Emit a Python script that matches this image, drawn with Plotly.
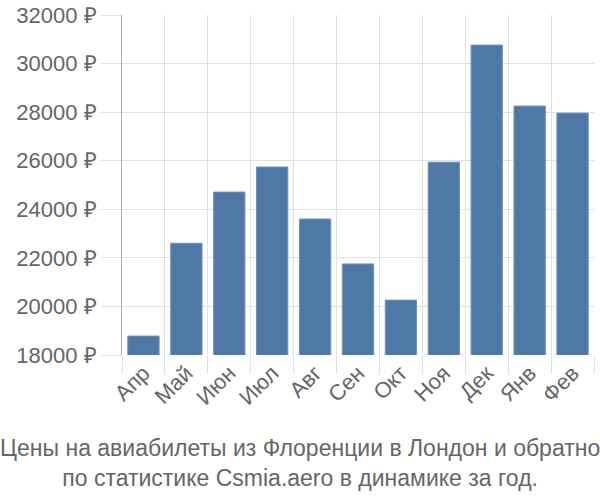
import plotly.graph_objects as go

months = ["Апр", "Май", "Июн", "Июл", "Авг", "Сен", "Окт", "Ноя", "Дек", "Янв", "Фев"]
prices = [18780, 22600, 24710, 25740, 23600, 21750, 20260, 25940, 30760, 28250, 27960]
y_ticks = [18000, 20000, 22000, 24000, 26000, 28000, 30000, 32000]
y_labels = [f"{v} ₽" for v in y_ticks]
title_lines = ["Цены на авиабилеты из Флоренции в Лондон и обратно",
               "по статистике Csmia.aero в динамике за год."]

fig = go.Figure()
fig.add_trace(go.Bar(
    x=months, y=prices,
    marker=dict(color="#4e79a7", line=dict(color="#6f93bb", width=1)),
))

font_family = "Liberation Sans, Arial, sans-serif"
fig.update_layout(
    width=600, height=500,
    margin=dict(l=122, r=6, t=15, b=145),
    plot_bgcolor="white", paper_bgcolor="white",
    bargap=0.27,
    showlegend=False,
    font=dict(family=font_family, color="#666", size=22),
    xaxis=dict(
        automargin=False,
        tickson="boundaries", showgrid=True, gridcolor="#e0e0e0", gridwidth=1,
        ticks="outside", ticklen=18, tickcolor="#e0e0e0",
        tickangle=-45, tickfont=dict(size=22, color="#666"),
        showline=False,
    ),
    yaxis=dict(
        automargin=False,
        range=[18000, 32000], tickvals=y_ticks, ticktext=y_labels,
        showgrid=True, gridcolor="#e0e0e0", gridwidth=1,
        ticks="outside", ticklen=20, tickcolor="#e0e0e0",
        tickfont=dict(size=22, color="#666"),
        showline=True, linecolor="#aaaaaa", linewidth=1,
        zeroline=False,
    ),
    annotations=[dict(
        text="<br>".join(title_lines), xref="paper", yref="paper",
        x=0.5, xanchor="center", y=-0.228, yanchor="top", xshift=-58,
        showarrow=False, font=dict(size=23, color="#666"),
    )],
)

fig.write_html("out.html")
